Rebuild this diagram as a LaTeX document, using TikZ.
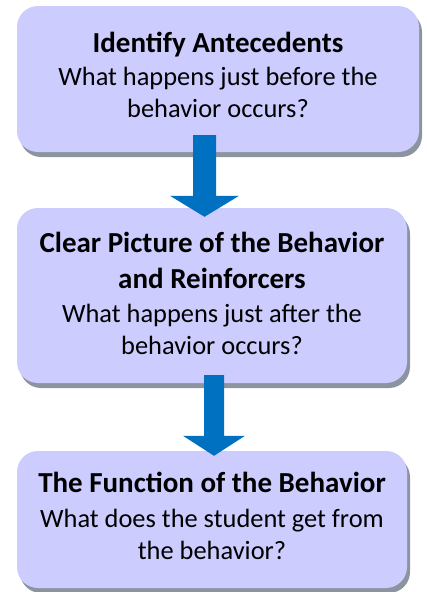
\documentclass[tikz,border=0pt]{standalone}
\usepackage{fontspec}
\setmainfont{Carlito}
\usetikzlibrary{shadows,calc}
\definecolor{boxfill}{HTML}{CCCCFF}
\definecolor{shadowgray}{HTML}{8C959F}
\definecolor{arrowblue}{HTML}{0070C0}
\tikzset{
  stepbox/.style={fill=boxfill, rounded corners=21pt, inner sep=0pt,
    drop shadow={shadow xshift=3pt, shadow yshift=-5pt, fill=shadowgray, opacity=1}},
  boxtext/.style={inner sep=0pt, align=center, font=\fontsize{26.4}{32}\selectfont}
}
\newcommand{\hdline}[1]{{\bfseries\fontsize{29}{36}\selectfont #1}}
\begin{document}
\begin{tikzpicture}[x=1pt,y=-1pt]
\useasboundingbox (0,0) rectangle (427,592);
\node[stepbox, minimum width=402pt, minimum height=146pt] (b1) at (218,79) {};
\node[stepbox, minimum width=390pt, minimum height=175pt] (b2) at (212,295.5) {};
\node[stepbox, minimum width=390pt, minimum height=137pt] (b3) at (212,519.5) {};
\node[boxtext] (t1) at ([yshift=4pt]b1.center)
  {\hdline{Identify Antecedents}\\[1pt] What happens just before the\\ behavior occurs?};
\node[boxtext] (t2) at ([yshift=2pt]b2.center)
  {\hdline{Clear Picture of the Behavior}\\[4pt] \hdline{and Reinforcers}\\[2pt] What happens just after the\\ behavior occurs?};
\node[boxtext] (t3) at ([yshift=4pt]b3.center)
  {\hdline{The Function of the Behavior}\\[3pt] What does the student get from\\ the behavior?};
% arrow 1
\fill[arrowblue] let \p1=([xshift=-13.5pt,yshift=17pt]b1.south), \p2=([xshift=-7.5pt,yshift=-9pt]b2.north) in
  (\x1-11.5pt,\y1) -- (\x1+11.5pt,\y1) -- (\x1+11.5pt,\y2+21pt) -- (\x1+34.5pt,\y2+21pt)
  -- (\x2,\y2) -- (\x1-34.5pt,\y2+21pt) -- (\x1-11.5pt,\y2+21pt) -- cycle;
% arrow 2
\fill[arrowblue] let \p1=([xshift=2pt,yshift=8pt]b2.south), \p2=([xshift=2pt,yshift=-5pt]b3.north) in
  (\x1-10pt,\y1) -- (\x1+10pt,\y1) -- (\x1+10pt,\y2+20pt) -- (\x1+31pt,\y2+20pt)
  -- (\x2,\y2) -- (\x1-31pt,\y2+20pt) -- (\x1-10pt,\y2+20pt) -- cycle;
\end{tikzpicture}
\end{document}
